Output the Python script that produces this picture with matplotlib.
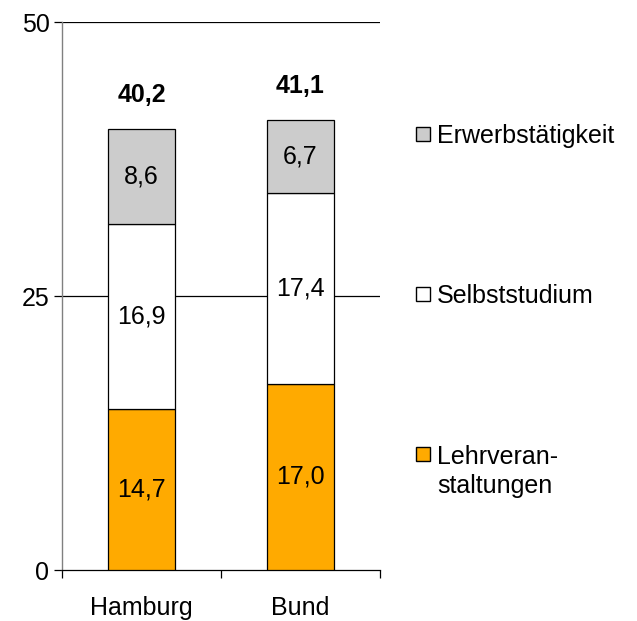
import matplotlib
matplotlib.use("Agg")
import matplotlib.pyplot as plt
from matplotlib.patches import Rectangle
import numpy as np

plt.rcParams['font.family'] = ['Liberation Sans', 'DejaVu Sans']

categories = ["Hamburg", "Bund"]
series_names = ["Lehrveran-\nstaltungen", "Selbststudium", "Erwerbstätigkeit"]
lehr = [14.7, 17.0]
selbst = [16.9, 17.4]
erwerb = [8.6, 6.7]
totals = [40.2, 41.1]
yticks = [0, 25, 50]

colors = ["#FFAA00", "#FFFFFF", "#CCCCCC"]
fs = 18

fig = plt.figure(figsize=(6.37, 6.21), dpi=100)
ax = fig.add_axes([62/637, 1-570/621, (380-62)/637, (570-22)/621])

x = np.arange(len(categories))
bottom = np.zeros(len(categories))
for vals, col in zip([lehr, selbst, erwerb], colors):
    vals = np.array(vals)
    ax.bar(x, vals, width=0.42, bottom=bottom, color=col, edgecolor="black",
           linewidth=0.9, zorder=3)
    for xi, b, v in zip(x, bottom, vals):
        ax.text(xi, b + v/2, f"{v:.1f}".replace(".", ","), ha="center", va="center",
                fontsize=fs, zorder=4)
    bottom = bottom + vals

for xi, t in zip(x, totals):
    ax.text(xi, t + 3.1, f"{t:.1f}".replace(".", ","), ha="center", va="center",
            fontsize=fs, fontweight="bold")

ax.set_xlim(-0.5, 1.5)
ax.set_ylim(0, 50)
ax.set_yticks(yticks)
ax.set_yticklabels([str(v) for v in yticks], fontsize=fs)
for v in yticks[1:]:
    ax.axhline(v, color="black", linewidth=0.9, zorder=1)

ax.set_xticks(x)
ax.set_xticklabels(categories, fontsize=fs)
ax.tick_params(axis="x", which="major", length=0, pad=19)
ax.set_xticks([-0.5, 0.5, 1.5], minor=True)
ax.tick_params(axis="x", which="minor", length=6, width=0.9, direction="out", color="black")
ax.tick_params(axis="y", length=6, width=0.9, direction="out", pad=3, color="black")

for s in ["top", "right"]:
    ax.spines[s].set_visible(False)
ax.spines["left"].set_color("#808080")
ax.spines["left"].set_linewidth(1.0)
ax.spines["bottom"].set_color("black")
ax.spines["bottom"].set_linewidth(0.9)

# legend (manual, figure pixel coordinates)
W, H = 637, 621
line_gap = 30
legend_items = [("Erwerbstätigkeit", colors[2], 134),
                ("Selbststudium", colors[1], 294),
                ("Lehrveran-\nstaltungen", colors[0], 454)]
for label, col, yc in legend_items:
    sq = 14
    fig.add_artist(Rectangle((416/W, 1-(yc+sq/2)/H), sq/W, sq/H,
                             transform=fig.transFigure, facecolor=col,
                             edgecolor="black", linewidth=1.0))
    nlines = label.count("\n")
    fig.text(437/W, 1-(yc + 9 + nlines*line_gap)/H, label, ha="left", va="baseline",
             fontsize=fs, linespacing=1.28)

fig.savefig("out.png", dpi=100)
